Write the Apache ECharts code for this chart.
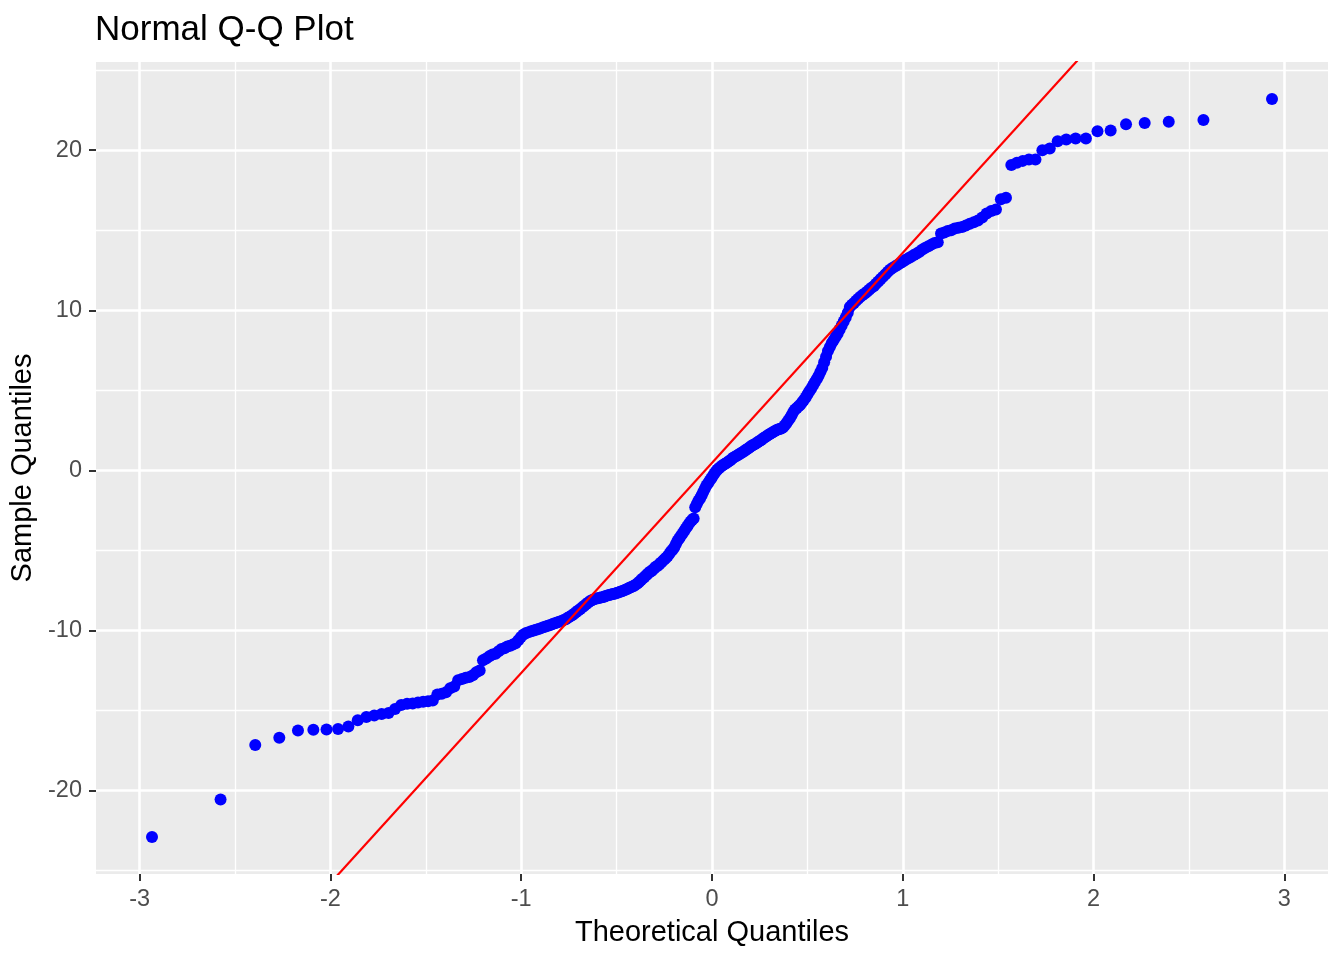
<!DOCTYPE html>
<html>
<head>
<meta charset="utf-8">
<title>Normal Q-Q Plot</title>
<script src="https://cdn.jsdelivr.net/npm/echarts@6/dist/echarts.min.js"></script>
<style>
  html, body { margin: 0; padding: 0; background: #fff; }
  #chart { width: 1344px; height: 960px; }
</style>
</head>
<body>
<div id="chart"></div>
<script>
// sorted sample values (n = 300)
const sampleQuantiles = [
  -22.9, -20.55, -17.15, -16.7, -16.25, -16.2, -16.18, -16.15, -16.0, -15.6,
  -15.4, -15.3, -15.22, -15.15, -14.9, -14.65, -14.58, -14.55, -14.5, -14.45,
  -14.42, -14.37, -14.0, -13.95, -13.85, -13.6, -13.5, -13.1, -13.02, -12.95,
  -12.9, -12.8, -12.6, -12.5, -11.85, -11.75, -11.6, -11.5, -11.45, -11.3,
  -11.15, -11.1, -11.0, -10.95, -10.88, -10.8, -10.6, -10.4, -10.25, -10.15,
  -10.1, -10.05, -10.0, -9.95, -9.9, -9.85, -9.8, -9.75, -9.7, -9.65,
  -9.6, -9.55, -9.5, -9.45, -9.4, -9.35, -9.3, -9.2, -9.12, -9.05,
  -8.95, -8.85, -8.75, -8.65, -8.55, -8.45, -8.35, -8.25, -8.15, -8.1,
  -8.05, -8.0, -7.98, -7.95, -7.92, -7.9, -7.85, -7.82, -7.78, -7.75,
  -7.72, -7.7, -7.66, -7.62, -7.58, -7.54, -7.5, -7.45, -7.4, -7.35,
  -7.3, -7.25, -7.2, -7.12, -7.05, -6.95, -6.85, -6.75, -6.65, -6.55,
  -6.45, -6.35, -6.3, -6.2, -6.1, -6.0, -5.95, -5.85, -5.75, -5.65,
  -5.55, -5.45, -5.35, -5.2, -5.05, -4.95, -4.8, -4.6, -4.4, -4.25,
  -4.1, -3.95, -3.8, -3.65, -3.5, -3.35, -3.2, -3.1, -3.0, -2.3,
  -2.1, -1.9, -1.75, -1.55, -1.35, -1.15, -0.95, -0.8, -0.65, -0.5,
  -0.35, -0.2, -0.05, 0.05, 0.15, 0.22, 0.3, 0.37, 0.43, 0.5,
  0.57, 0.64, 0.72, 0.8, 0.86, 0.92, 0.98, 1.04, 1.1, 1.17,
  1.23, 1.3, 1.37, 1.45, 1.52, 1.58, 1.64, 1.7, 1.77, 1.84,
  1.9, 1.98, 2.05, 2.12, 2.2, 2.26, 2.32, 2.38, 2.44, 2.5,
  2.55, 2.58, 2.62, 2.68, 2.8, 2.95, 3.1, 3.25, 3.45, 3.65,
  3.8, 3.9, 4.0, 4.1, 4.25, 4.4, 4.55, 4.75, 4.95, 5.1,
  5.3, 5.5, 5.7, 5.9, 6.15, 6.4, 6.75, 7.1, 7.45, 7.7,
  7.95, 8.15, 8.35, 8.55, 8.8, 9.05, 9.3, 9.55, 9.85, 10.2,
  10.35, 10.45, 10.6, 10.72, 10.85, 10.95, 11.05, 11.15, 11.28, 11.4,
  11.5, 11.65, 11.8, 11.95, 12.1, 12.25, 12.4, 12.55, 12.65, 12.75,
  12.85, 12.95, 13.05, 13.15, 13.25, 13.35, 13.45, 13.55, 13.65, 13.8,
  13.9, 14.0, 14.1, 14.2, 14.25, 14.8, 14.85, 14.95, 15.0, 15.1,
  15.15, 15.2, 15.3, 15.4, 15.5, 15.6, 15.8, 16.05, 16.2, 16.3,
  16.93, 17.03, 19.07, 19.21, 19.33, 19.42, 19.42, 20.0, 20.1, 20.56,
  20.67, 20.73, 20.73, 21.18, 21.22, 21.62, 21.7, 21.78, 21.88, 23.2
];

// reference line (qqline)
const lineIntercept = 0.47;
const lineSlope = 13.12;

// axis breaks
const xTicks = [-3, -2, -1, 0, 1, 2, 3];
const xMinorTicks = [-2.5, -1.5, -0.5, 0.5, 1.5, 2.5];
const yTicks = [-20, -10, 0, 10, 20];
const yMinorTicks = [-25, -15, -5, 5, 15, 25];

// inverse normal cdf (Acklam)
function qnorm(p) {
  const a = [-39.69683028665376, 220.9460984245205, -275.9285104469687, 138.3577518672690, -30.66479806614716, 2.506628277459239];
  const b = [-54.47609879822406, 161.5858368580409, -155.6989798598866, 66.80131188771972, -13.28068155288572];
  const c = [-0.007784894002430293, -0.3223964580411365, -2.400758277161838, -2.549732539343734, 4.374664141464968, 2.938163982698783];
  const d = [0.007784695709041462, 0.3224671290700398, 2.445134137142996, 3.754408661907416];
  const pl = 0.02425;
  let q, r;
  if (p < pl) {
    q = Math.sqrt(-2 * Math.log(p));
    return (((((c[0]*q+c[1])*q+c[2])*q+c[3])*q+c[4])*q+c[5]) / ((((d[0]*q+d[1])*q+d[2])*q+d[3])*q+1);
  }
  if (p > 1 - pl) {
    q = Math.sqrt(-2 * Math.log(1 - p));
    return -(((((c[0]*q+c[1])*q+c[2])*q+c[3])*q+c[4])*q+c[5]) / ((((d[0]*q+d[1])*q+d[2])*q+d[3])*q+1);
  }
  q = p - 0.5;
  r = q * q;
  return (((((a[0]*r+a[1])*r+a[2])*r+a[3])*r+a[4])*r+a[5])*q / (((((b[0]*r+b[1])*r+b[2])*r+b[3])*r+b[4])*r+1);
}

const n = sampleQuantiles.length;
const theoretical = sampleQuantiles.map((v, i) => qnorm((i + 1 - 0.5) / n));
const points = sampleQuantiles.map((v, i) => [theoretical[i], v]);

// ggplot style 5% expansion
function expand(arr) {
  const lo = Math.min(...arr), hi = Math.max(...arr);
  const pad = (hi - lo) * 0.05;
  return [lo - pad, hi + pad];
}
const [xMin, xMax] = expand(theoretical);
const [yMin, yMax] = expand(sampleQuantiles);

const font = "'Liberation Sans', Arial, Helvetica, sans-serif";

let chart = echarts.init(document.getElementById('chart'));

const gridLines = [].concat(
  xTicks.map(v => ({ xAxis: v, lineStyle: { width: 2.6 } })),
  xMinorTicks.map(v => ({ xAxis: v, lineStyle: { width: 1.3 } })),
  yTicks.map(v => ({ yAxis: v, lineStyle: { width: 2.6 } })),
  yMinorTicks.map(v => ({ yAxis: v, lineStyle: { width: 1.3 } }))
);

chart.setOption({
  animation: false,
  backgroundColor: '#ffffff',
  textStyle: { fontFamily: font },
  title: {
    text: 'Normal Q-Q Plot',
    left: 95,
    top: 13,
    padding: 0,
    textStyle: { fontFamily: font, fontSize: 35, fontWeight: 'normal', color: '#000' }
  },
  grid: {
    left: 96, right: 16, top: 62, bottom: 86,
    show: true,
    backgroundColor: '#EBEBEB',
    borderWidth: 0
  },
  xAxis: {
    type: 'value',
    min: xMin,
    max: xMax,
    name: 'Theoretical Quantiles',
    nameLocation: 'middle',
    nameGap: 44,
    nameTextStyle: { fontFamily: font, fontSize: 29, color: '#000' },
    axisLine: { show: false, onZero: false },
    axisTick: { show: true, length: 7, customValues: xTicks, lineStyle: { color: '#333', width: 2 } },
    axisLabel: { customValues: xTicks, fontSize: 23.5, color: '#4D4D4D', margin: 14, fontFamily: font },
    splitLine: { show: false }
  },
  yAxis: {
    type: 'value',
    min: yMin,
    max: yMax,
    name: 'Sample Quantiles',
    nameLocation: 'middle',
    nameGap: 51,
    nameTextStyle: { fontFamily: font, fontSize: 29, color: '#000' },
    axisLine: { show: false, onZero: false },
    axisTick: { show: true, length: 7, customValues: yTicks, lineStyle: { color: '#333', width: 2 } },
    axisLabel: { customValues: yTicks, fontSize: 23.5, color: '#4D4D4D', margin: 14, fontFamily: font },
    splitLine: { show: false }
  },
  series: [
    {
      // panel grid lines
      type: 'scatter',
      z: 1,
      silent: true,
      data: [],
      markLine: {
        z: 1,
        silent: true,
        symbol: 'none',
        label: { show: false },
        lineStyle: { color: '#ffffff', type: 'solid' },
        data: gridLines
      }
    },
    {
      type: 'scatter',
      z: 3,
      symbol: 'circle',
      symbolSize: 12,
      itemStyle: { color: '#0000FF', opacity: 1 },
      data: points
    },
    {
      type: 'line',
      z: 4,
      showSymbol: false,
      clip: true,
      lineStyle: { color: '#FF0000', width: 2.2 },
      data: [[xMin, lineIntercept + lineSlope * xMin], [xMax, lineIntercept + lineSlope * xMax]]
    }
  ]
});
</script>
</body>
</html>
